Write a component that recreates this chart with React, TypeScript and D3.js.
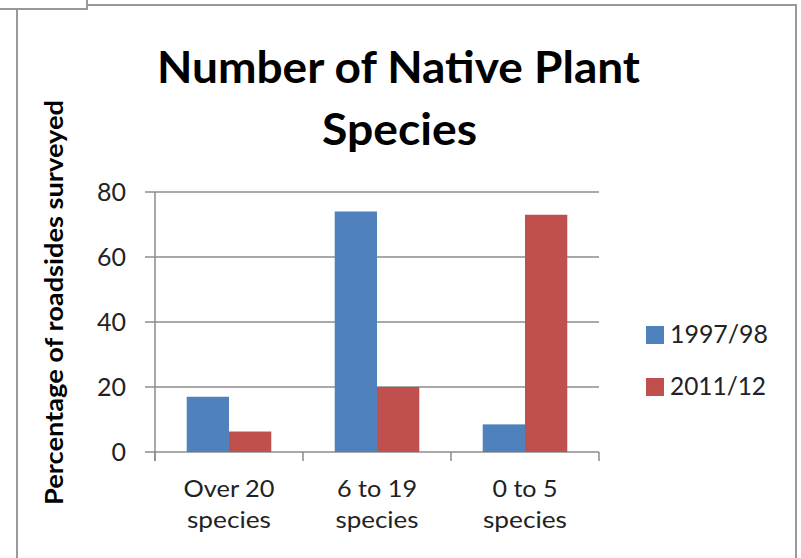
import React from "react";
import * as d3 from "d3";

const categories = ["Over 20 species", "6 to 19 species", "0 to 5 species"];
const categoryLines = [["Over 20", "species"], ["6 to 19", "species"], ["0 to 5", "species"]];
const seriesNames = ["1997/98", "2011/12"];
const series1997 = [17, 74, 8.5];
const series2011 = [6.3, 20, 73];
const yTicks = [0, 20, 40, 60, 80];
const colors = ["#4F81BD", "#C0504D"];
const titleLines = ["Number of Native Plant", "Species"];
const yLabel = "Percentage of roadsides surveyed";

// measured text widths of the reference (layout only)
const catLineWidths = [[91, 84], [80, 83], [65, 84]];
const titleWidths = [483, 155];
const legendWidths = [98, 96];

export default function App() {
  const W = 801, H = 558;
  const left = 155, right = 599, top = 192, bottom = 452;
  const y = d3.scaleLinear().domain([0, 80]).range([bottom, top]);
  const x0 = d3.scaleBand<string>().domain(categories).range([left, right]).paddingInner(0.4286).paddingOuter(0.2143);
  const x1 = d3.scaleBand<string>().domain(seriesNames).range([0, x0.bandwidth()]);
  const values = [series1997, series2011];
  const step = x0.step();
  const grid = "#8c8c8c";
  const font = "Lato, 'Open Sans', sans-serif";
  return (
    <svg width={W} height={H} style={{ position: "fixed", left: 0, top: 0, background: "#fff" }}>
      <rect x={0} y={0} width={W} height={H} fill="#fff" />
      {/* frame */}
      <g stroke="#999" strokeWidth={2} fill="none">
        <line x1={0} y1={9} x2={88} y2={9} />
        <line x1={87} y1={0} x2={87} y2={9} />
        <line x1={87} y1={5} x2={797} y2={5} />
        <line x1={796} y1={5} x2={796} y2={H} />
        <line x1={17} y1={9} x2={17} y2={H} />
      </g>
      {/* gridlines + y ticks */}
      {yTicks.map((t) => (
        <g key={t}>
          <line x1={145} x2={right} y1={y(t)} y2={y(t)} stroke={grid} strokeWidth={1.5} />
          <text x={126} y={y(t) + 9} textAnchor="end" fontFamily={font} fontSize={25} fill="#222">{t}</text>
        </g>
      ))}
      {/* bars */}
      {categories.map((c, i) => (
        <g key={c} transform={`translate(${x0(c)},0)`}>
          {seriesNames.map((s, k) => (
            <rect key={s} x={x1(s)} y={y(values[k][i])} width={x1.bandwidth()} height={y(0) - y(values[k][i])} fill={colors[k]} />
          ))}
        </g>
      ))}
      {/* axes */}
      <line x1={left} x2={left} y1={top} y2={bottom + 9} stroke={grid} strokeWidth={1.5} />
      {[0, 1, 2, 3].map((i) => (
        <line key={i} x1={left + i * step} x2={left + i * step} y1={bottom} y2={bottom + 9} stroke={grid} strokeWidth={1.5} />
      ))}
      {/* x labels */}
      {categories.map((c, i) => {
        const cx = (x0(c) as number) + x0.bandwidth() / 2;
        return (
          <g key={c}>
            <text x={cx} y={497} textAnchor="middle" fontFamily={font} fontSize={23} fill="#222" textLength={catLineWidths[i][0]} lengthAdjust="spacingAndGlyphs">{categoryLines[i][0]}</text>
            <text x={cx} y={528} textAnchor="middle" fontFamily={font} fontSize={23} fill="#222" textLength={catLineWidths[i][1]} lengthAdjust="spacingAndGlyphs">{categoryLines[i][1]}</text>
          </g>
        );
      })}
      {/* title */}
      <text x={398.5} y={83} textAnchor="middle" fontFamily={font} fontWeight="bold" fontSize={43} fill="#000" textLength={titleWidths[0]} lengthAdjust="spacingAndGlyphs">{titleLines[0]}</text>
      <text x={399.5} y={145} textAnchor="middle" fontFamily={font} fontWeight="bold" fontSize={43} fill="#000" textLength={titleWidths[1]} lengthAdjust="spacingAndGlyphs">{titleLines[1]}</text>
      {/* y label */}
      <text transform="translate(63,302.5) rotate(-90)" textAnchor="middle" fontFamily={font} fontWeight="bold" fontSize={24} fill="#000" textLength={405} lengthAdjust="spacingAndGlyphs">{yLabel}</text>
      {/* legend */}
      {seriesNames.map((s, k) => (
        <g key={s}>
          <rect x={646} y={326 + k * 52} width={18} height={18} fill={colors[k]} />
          <text x={670} y={343 + k * 52} fontFamily={font} fontSize={25} fill="#222" textLength={legendWidths[k]} lengthAdjust="spacingAndGlyphs">{s}</text>
        </g>
      ))}
    </svg>
  );
}
